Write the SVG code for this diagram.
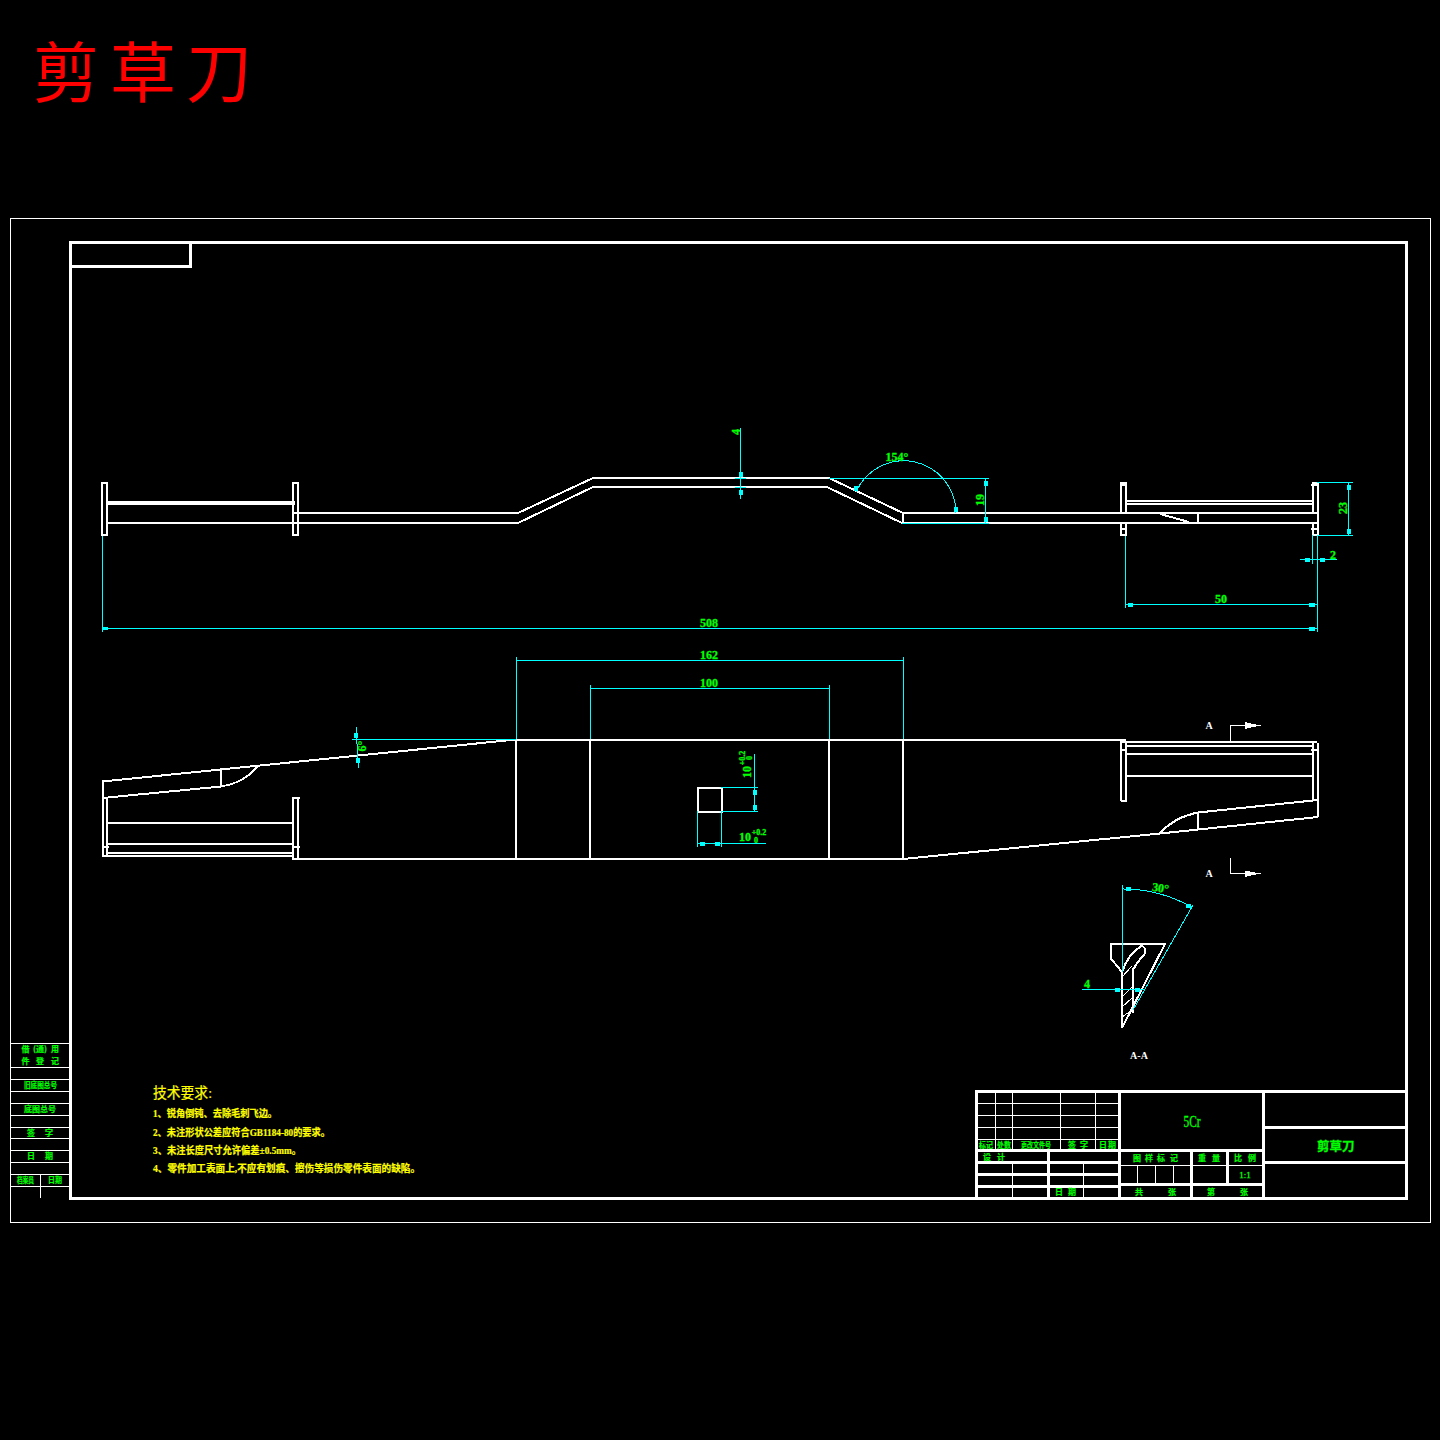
<svg xmlns="http://www.w3.org/2000/svg" width="1440" height="1440" viewBox="0 0 1440 1440">
<style>
line,path,polyline,rect{shape-rendering:crispEdges}
.w3{stroke:#fff;stroke-width:3;fill:none}
.w2{stroke:#fff;stroke-width:2;fill:none}
.w1{stroke:#fff;stroke-width:1;fill:none}
.c{stroke:#0ff;stroke-width:1;fill:none}
.arr{fill:#0ff;stroke:none}
.wf{fill:#fff;stroke:none}
text{font-family:"Liberation Serif","Noto Sans CJK SC",serif}
.g{fill:#0f0;font-size:12px;font-weight:bold;text-anchor:middle;stroke:#0f0;stroke-width:.3}
.s{fill:#0f0;font-size:8px;font-weight:bold;font-family:"Noto Sans CJK SC",sans-serif;text-anchor:middle;stroke:#0f0;stroke-width:.2}
.y{fill:#ff0;font-size:10px;font-weight:bold;stroke:#ff0;stroke-width:.2}
.a{fill:#fff;font-size:10px;font-weight:bold;text-anchor:middle}
</style>
<rect width="1440" height="1440" fill="#000"/>
<g id="title-heading" fill="#f00" font-size="66" style="font-family:'Noto Sans CJK SC',sans-serif">
<text x="33" y="97">剪</text><text x="110" y="97">草</text><text x="186" y="97">刀</text>
</g>
<g id="frame">
<rect x="10.5" y="218.5" width="1420" height="1004" class="w1"/>
<rect x="70.5" y="242.5" width="1336" height="956" class="w3"/>
<path d="M71 266.5H190V242" class="w3"/>
</g>
<g id="side-strip">
<path class="w1" d="M11 1043.5H70M11 1067.5H70M11 1079.5H70M11 1091.5H70M11 1103.5H70M11 1115.5H70M11 1127.5H70M11 1138.5H70M11 1150.5H70M11 1162.5H70M11 1174.5H70M11 1186.5H70M40.5 1174V1198"/>
<text class="s" x="25.5" y="1052">借</text><text class="s" x="40" y="1052">(通)</text><text class="s" x="55" y="1052">用</text>
<text class="s" x="25.5" y="1064">件</text><text class="s" x="40" y="1064">登</text><text class="s" x="55" y="1064">记</text>
<text class="s" x="40.500" y="1088" textLength="33" lengthAdjust="spacingAndGlyphs">旧底图总号</text>
<text class="s" x="40" y="1112" textLength="32">底图总号</text>
<text class="s" x="31" y="1136">签</text><text class="s" x="49" y="1136">字</text>
<text class="s" x="31" y="1159">日</text><text class="s" x="49" y="1159">期</text>
<text class="s" x="25.500" y="1183" textLength="17" lengthAdjust="spacingAndGlyphs">档案员</text>
<text class="s" x="55" y="1183" textLength="14" lengthAdjust="spacingAndGlyphs">日期</text>
</g>
<g id="technical-notes">
<text class="y" x="153" y="1098" style="font-size:15px;font-weight:normal" textLength="59" lengthAdjust="spacingAndGlyphs">技术要求:</text>
<text class="y" x="153" y="1117" textLength="124" lengthAdjust="spacingAndGlyphs">1、锐角倒钝、去除毛刺飞边。</text>
<text class="y" x="153" y="1136" textLength="177" lengthAdjust="spacingAndGlyphs">2、未注形状公差应符合GB1184-80的要求。</text>
<text class="y" x="153" y="1154" textLength="148" lengthAdjust="spacingAndGlyphs">3、未注长度尺寸允许偏差±0.5mm。</text>
<text class="y" x="153" y="1172" textLength="267" lengthAdjust="spacingAndGlyphs">4、零件加工表面上,不应有划痕、擦伤等损伤零件表面的缺陷。</text>
</g>
<g id="title-block">
<path class="w3" d="M976.500 1198V1091.500H1406M1119.500 1091V1198M1263.500 1091V1198M1264 1127.500H1406M1264 1162.500H1406M976 1150.500H1264M1048.500 1150V1198M1191.500 1150V1198M1227.500 1150V1184M1120 1184.500H1264M977 1162.500H1119M977 1174.500H1119M977 1186.500H1119"/>
<path class="w1" d="M977 1103.500H1119M977 1115.500H1119M977 1127.500H1119M977 1139.500H1119M995.500 1092V1150M1012.500 1092V1150M1060.500 1092V1150M1095.500 1092V1150M1012.500 1162V1198M1083.500 1162V1198M1120 1165.500H1263M1137.500 1165V1184M1155.500 1165V1184M1173.500 1165V1184"/>
<text class="s" x="986" y="1148" textLength="14" lengthAdjust="spacingAndGlyphs">标记</text>
<text class="s" x="1004" y="1148" textLength="14" lengthAdjust="spacingAndGlyphs">处数</text>
<text class="s" x="1036" y="1148" textLength="30" lengthAdjust="spacingAndGlyphs">更改文件号</text>
<text class="s" x="1072" y="1148">签</text><text class="s" x="1084" y="1148">字</text>
<text class="s" x="1103" y="1148">日</text><text class="s" x="1112" y="1148">期</text>
<text class="s" x="987" y="1160">设</text><text class="s" x="1001" y="1160">计</text>
<text class="s" x="1059" y="1195">日</text><text class="s" x="1072" y="1195">期</text>
<text class="s" x="1137" y="1161">图</text><text class="s" x="1149" y="1161">样</text><text class="s" x="1161" y="1161">标</text><text class="s" x="1174" y="1161">记</text>
<text class="s" x="1202" y="1161">重</text><text class="s" x="1216" y="1161">量</text>
<text class="s" x="1238" y="1161">比</text><text class="s" x="1252" y="1161">例</text>
<text class="s" x="1139" y="1195">共</text><text class="s" x="1172" y="1195">张</text>
<text class="s" x="1211" y="1195">第</text><text class="s" x="1244" y="1195">张</text>
<text class="g" x="1245" y="1178" style="font-size:9px;font-weight:normal">1:1</text>
<text class="g" x="1192" y="1127" style="font-size:16px;font-weight:normal" textLength="17" lengthAdjust="spacingAndGlyphs">5Cr</text>
<text x="1317" y="1151" fill="#0f0" stroke="#0f0" stroke-width=".3" style="font-size:12px;font-family:'Noto Sans CJK SC',sans-serif;font-size:12.500px;font-weight:bold">剪草刀</text>
</g>
<g id="top-view">
<path class="w2" d="M102 536V482.500H107V535M102 535H108M293 536V482.500H298V535M292 535H299"/>
<rect x="107" y="501" width="188" height="4" class="wf"/>
<path class="w2" d="M107 522.500H293M293 513H518L593 478H829L903 513V523M293 523H518L593 487H827L902 523H1318M903 513H1318"/>
<path class="w2" d="M1121 513V482.500H1126V513M1121 523V535M1126 523V535M1120 535H1127M1120 484.500H1127M1120 528.500H1127M1312.500 513V482.500H1317.500V535H1312.500V523M1311 484.500H1319M1311 528.500H1319M1126 501H1313M1126 504H1313M1198 513V523M1160 514L1189 522"/>
</g>
<g id="front-view">
<path class="w2" d="M102.500 857V781.500L516 739.500H1126M102.500 798L221 786.500C238 784 250 776 259 765M107 798V856M221 769V787M107 823H294M107 844H293M107 853H294M102 856H294M293 798V859H903L1160 833.500L1318 817M298 798V858M292 797.500H300M102 846.500H109M293 846.500H300"/>
<path class="w2" d="M516 739V859M590 739V859M829 739V859M903 739V859"/>
<rect x="697.500" y="787.500" width="24" height="24" class="w2"/>
<path class="w2" d="M1160 833C1172 820 1185 815 1198 812.500L1318 800M1198 812V829M1317.500 743V817M1312.500 743V800M1121 800.500V742H1317M1125.500 742V800.500H1121M1126 745.500H1313M1126 754H1313M1126 775.500H1312M1120 749.500H1127M1311 749.500H1319"/>
</g>
<g id="section-marks">
<path class="w1" d="M1230.500 742V725.500H1261M1230.500 858V873.500H1261"/>
<path class="wf" d="M1245 722L1260 725.500L1245 729ZM1245 870.500L1260 873.500L1245 877Z"/>
<text class="a" x="1209" y="729">A</text><text class="a" x="1209" y="877">A</text>
</g>
<g id="section-a-a">
<path class="w2" d="M1110 944H1165L1122 1028V972L1110.500 958V944M1132.500 968V1013"/>
<path class="w2" d="M1122 972C1125 963 1131 952 1142 945.500L1144.500 948V954L1137 963L1132.500 971"/>
<path class="w1" d="M1122 977L1132 966M1122 997L1132 987M1122 1007L1132 998M1122 1017L1132 1010"/>
<text class="a" x="1139" y="1059">A-A</text>
</g>
<g id="connectors">
<path class="c" d="M102.500 536V632M102 628.500H1317M1317.500 535V632M1312.500 535V564M1300 559.500H1337M1125.500 536V608M1125 604.500H1317M1317 482.500H1353M1317 535.500H1353M1348.500 482V535"/>
<path class="c" d="M740.500 428V499M735 478H746M735 487H746M829 478H989M902 523H989M985.500 478V523"/>
<path class="c" d="M856 492A52.200 52.200 0 0 1 956 513"/>
<path class="c" d="M516.500 739V657M903.500 739V657M516 660.500H903M590.500 739V685M829.500 739V685M590 688.500H829"/>
<path class="c" d="M356 727L358.500 768M352 739.500H516"/>
<path class="c" d="M697.500 811V847M721.500 811V847M697 843.500H766M721 787.500H758M721 811.500H758M754.500 754V811"/>
<path class="c" d="M1122.500 885V972M1122 889A139 139 0 0 1 1191.500 907M1193 905L1133 1010M1082 989.500H1145"/>
<g class="arr">
<rect x="1309" y="626.500" width="6" height="4"/>
<rect x="102.500" y="627" width="5" height="3"/>
<rect x="1309" y="602.500" width="6" height="4"/>
<rect x="1128" y="602.500" width="5" height="4"/>
<rect x="1305" y="557.500" width="5" height="4"/>
<rect x="1320" y="557.500" width="5" height="4"/>
<rect x="1346.500" y="484.500" width="4" height="5"/>
<rect x="1346.500" y="529" width="4" height="5"/>
<rect x="738.500" y="471.500" width="4" height="5"/>
<rect x="738.500" y="490" width="4" height="5"/>
<rect x="983.500" y="481" width="4" height="5"/>
<rect x="983.500" y="516.500" width="4" height="5"/>
<rect x="854" y="486" width="4" height="5"/>
<rect x="954" y="507" width="4" height="5"/>
<rect x="354" y="733" width="4" height="5"/>
<rect x="356" y="758" width="4" height="5"/>
<rect x="700" y="841.500" width="5" height="4"/>
<rect x="715" y="841.500" width="5" height="4"/>
<rect x="752.500" y="790" width="4" height="5"/>
<rect x="752.500" y="805" width="4" height="5"/>
<rect x="1126" y="887" width="5" height="4"/>
<rect x="1186" y="904" width="5" height="4"/>
<rect x="1115" y="987.500" width="5" height="4"/>
<rect x="1135" y="987.500" width="5" height="4"/>
</g>
</g>
<g id="dimension-labels">
<text class="g" x="709" y="627">508</text>
<text class="g" x="1221" y="603">50</text>
<text class="g" x="1333" y="559">2</text>
<text class="g" transform="translate(1347 508) rotate(-90)">23</text>
<text class="g" transform="translate(984 500) rotate(-90)">19</text>
<text class="g" transform="translate(740 432) rotate(-90)">4</text>
<text class="g" x="897" y="461">154°</text>
<text class="g" x="709" y="659">162</text>
<text class="g" x="709" y="687">100</text>
<text class="g" transform="translate(366 746) rotate(-90)">6°</text>
<text class="g" x="1087" y="988">4</text>
<text class="g" transform="translate(1160 892) rotate(8)">30°</text>
<text class="g" x="745" y="841">10</text>
<text class="g" x="759" y="835" style="font-size:8px">+0.2</text>
<text class="g" x="756" y="843" style="font-size:8px">0</text>
<text class="g" transform="translate(751 772) rotate(-90)">10</text>
<text class="g" transform="translate(745 758) rotate(-90)" style="font-size:8px">+0.2</text>
<text class="g" transform="translate(752 758) rotate(-90)" style="font-size:8px">0</text>
</g>
</svg>
